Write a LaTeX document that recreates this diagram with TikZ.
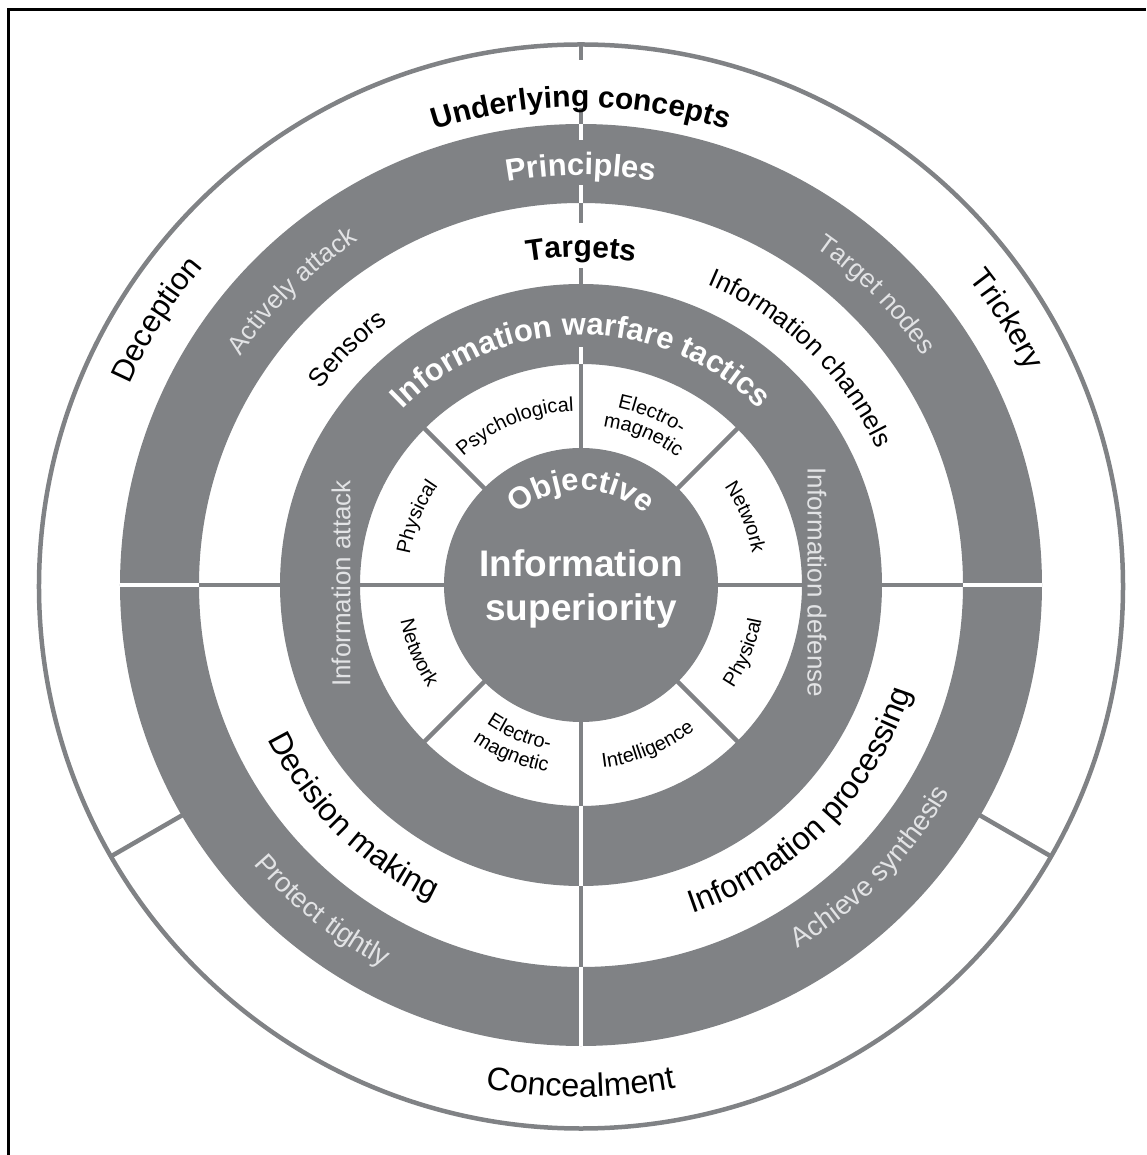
\documentclass[tikz,border=0pt]{standalone}
\usepackage{fontspec}
\setmainfont{Liberation Sans}
\usetikzlibrary{decorations.text}
\definecolor{ringgray}{RGB}{128,130,133}
\definecolor{lighttxt}{RGB}{226,227,229}
\newcommand\sztitle{\fontsize{30}{36}\selectfont\bfseries}
\newcommand\szhead{\fontsize{31}{37}\selectfont\bfseries}
\newcommand\szcore{\fontsize{37}{43.3}\selectfont\bfseries}
\newcommand\szouter{\fontsize{31}{37}\selectfont}
\newcommand\szbottom{\fontsize{32.5}{38}\selectfont}
\newcommand\szmid{\fontsize{32}{38}\selectfont}
\newcommand\szband{\fontsize{26}{31}\selectfont}
\newcommand\szprot{\fontsize{27.5}{33}\selectfont}
\newcommand\szsec{\fontsize{20}{24}\selectfont}
\tikzset{
  ring/.style = {fill=ringgray},
  sepgray/.style = {draw=ringgray, line width=4.5pt},
  sepwhite/.style = {draw=white, line width=3.5pt},
  ringtext/.style = {decorate, decoration={text along path, text align=center, text={#1}}},
  lighttext/.style = {decoration={text color=lighttxt}},
  whitetext/.style = {decoration={text color=white}}
}

\begin{document}
\begin{tikzpicture}[x=1pt, y=1pt]
  \useasboundingbox (-581,-570) rectangle (565,585);

  % frame, left and top edges only
  \draw[line width=3pt] (-572,-570) -- (-572,575) -- (565,575);

  % rings
  \draw[draw=ringgray, line width=4.5pt] (0,-1.5) circle[radius=542];
  \fill[ring, even odd rule] (0,0) circle[radius=461] circle[radius=382];
  \fill[ring, even odd rule] (0,0) circle[radius=301] circle[radius=221];
  \fill[ring] (0,0) circle[radius=137];

  % separators in the white bands
  \foreach \ang in {0,45,...,315}
    \draw[sepgray] (\ang:135) -- (\ang:223);
  \foreach \ang in {0,180,270}
    \draw[sepgray] (\ang:299) -- (\ang:384);
  \draw[sepgray] (90:299) -- (90:317);
  \draw[sepgray] (90:362) -- (90:384);
  \draw[sepgray] (90:459) -- (90:477);
  \draw[sepgray] (90:525) -- (90:541);
  \draw[sepgray] (210:459) -- (210:541);
  \draw[sepgray] (330:459) -- (330:541);

  % separators in the dark bands
  \foreach \ang in {0,180,270}
    \draw[sepwhite] (\ang:382) -- (\ang:461);
  \draw[sepwhite] (90:382) -- (90:400);
  \draw[sepwhite] (90:445) -- (90:461);
  \draw[sepwhite] (270:221) -- (270:301);
  \draw[sepwhite] (90:221) -- (90:238);

  % outer band
  \path[ringtext={|\sztitle|Underlying concepts}] (140:478) arc[start angle=140, end angle=40, radius=478];
  \path[ringtext={|\szouter|Deception}] (178:494) arc[start angle=178, end angle=118, radius=494];
  \path[ringtext={|\szouter|Trickery}] (62:494) arc[start angle=62, end angle=2, radius=494];
  \path[ringtext={|\szbottom|Concealment}] (240:512) arc[start angle=240, end angle=300, radius=512];

  % principles band
  \path[ringtext={|\szhead|Principles}, whitetext] (120:410) arc[start angle=120, end angle=60, radius=410];
  \path[ringtext={|\szband|Actively attack}, lighttext] (164.5:410) arc[start angle=164.5, end angle=104.5, radius=410];
  \path[ringtext={|\szband|Target nodes}, lighttext] (74.5:411) arc[start angle=74.5, end angle=14.5, radius=411];
  \path[ringtext={|\szprot|Protect tightly}, lighttext] (201.6:430) arc[start angle=201.6, end angle=261.6, radius=430];
  \path[ringtext={|\szprot|Achieve synthesis}, lighttext] (285.75:423) arc[start angle=285.75, end angle=345.75, radius=423];

  % targets band
  \path[ringtext={|\sztitle|Targets}] (120:328) arc[start angle=120, end angle=60, radius=328];
  \path[ringtext={|\szband|Sensors}] (164.7:326) arc[start angle=164.7, end angle=104.7, radius=326];
  \path[ringtext={|\szband|Information channels}] (85.9:326) arc[start angle=85.9, end angle=5.9, radius=326];
  \path[ringtext={|\szmid|Decision making}] (185.5:349) arc[start angle=185.5, end angle=265.5, radius=349];
  \path[ringtext={|\szmid|Information processing}] (275.4:347) arc[start angle=275.4, end angle=355.4, radius=347];

  % tactics band
  \path[ringtext={|\szhead|Information warfare tactics}, whitetext] (160:250) arc[start angle=160, end angle=20, radius=250];
  \node[rotate=90, text=lighttxt, font=\szband] (attack) at (-240,1.5) {Information attack};
  \node[rotate=-90, text=lighttxt, font=\szband] (defense) at (236,2.5) {Information defense};

  % sector ring
  \path[ringtext={|\szsec|Psychological}] (152.5:174) arc[start angle=152.5, end angle=72.5, radius=174];
  \path[ringtext={|\szsec|Electro-}] (107.5:181) arc[start angle=107.5, end angle=27.5, radius=181];
  \path[ringtext={|\szsec|magnetic}] (107.5:160) arc[start angle=107.5, end angle=27.5, radius=160];
  \path[ringtext={|\szsec|Network}] (62.5:174) arc[start angle=62.5, end angle=-17.5, radius=174];
  \path[ringtext={|\szsec|Physical}] (197.5:174) arc[start angle=197.5, end angle=117.5, radius=174];
  \path[ringtext={|\szsec|Network}] (162.5:184) arc[start angle=162.5, end angle=242.5, radius=184];
  \path[ringtext={|\szsec|Electro-}] (207.5:168) arc[start angle=207.5, end angle=287.5, radius=168];
  \path[ringtext={|\szsec|magnetic}] (207.5:190) arc[start angle=207.5, end angle=287.5, radius=190];
  \path[ringtext={|\szsec|Intelligence}] (252.5:184) arc[start angle=252.5, end angle=332.5, radius=184];
  \path[ringtext={|\szsec|Physical}] (297.5:184) arc[start angle=297.5, end angle=377.5, radius=184];

  % core
  \path[ringtext={|\szhead|Objective}, whitetext] (170:95) arc[start angle=170, end angle=10, radius=95];
  \node[text=white, font=\szcore, align=center] (core) at (0,-4) {Information\\superiority};
\end{tikzpicture}
\end{document}
